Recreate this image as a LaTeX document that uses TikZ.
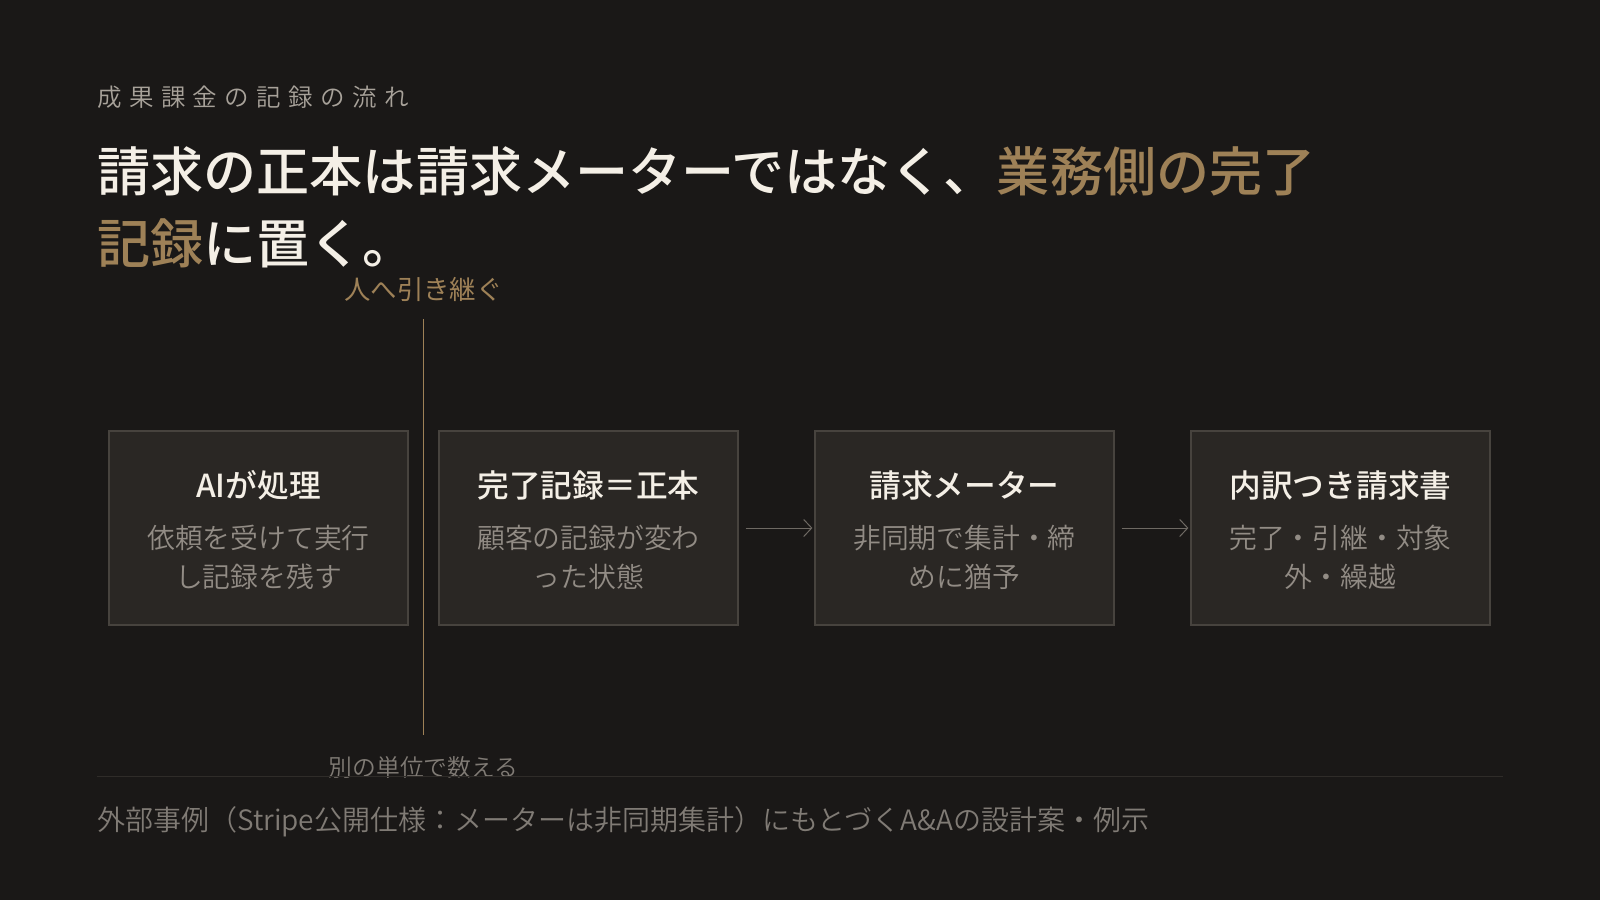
\documentclass[tikz,border=0pt]{standalone}
\usepackage{fontspec}
\setmainfont{Noto Sans CJK JP}
\newfontfamily\medfont{Noto Sans CJK JP Medium}
\newfontfamily\lightfont{Noto Sans CJK JP DemiLight}
\usetikzlibrary{arrows.meta}
\definecolor{bg}{HTML}{1A1817}
\definecolor{boxfill}{HTML}{2A2724}
\definecolor{boxline}{HTML}{47433E}
\definecolor{titlewhite}{HTML}{F4EFE6}
\definecolor{gold}{HTML}{9E8157}
\definecolor{descgrey}{HTML}{928C85}
\definecolor{subgrey}{HTML}{A8A29A}
\definecolor{footgrey}{HTML}{807B75}
\definecolor{footline}{HTML}{2F2C29}
\definecolor{arrowgrey}{HTML}{6E6963}
\begin{document}
\begin{tikzpicture}[x=0.5pt,y=-0.5pt,
  box/.style={draw=boxline, fill=boxfill, line width=0.6pt, minimum width=149.5pt, minimum height=97pt, inner sep=0pt},
  btitle/.style={anchor=base, inner sep=0pt, text=titlewhite, font=\fontsize{15.85}{18}\medfont},
  bdesc/.style={anchor=base, inner sep=0pt, text=descgrey, font=\fontsize{13.9}{18}\lightfont},
  flow/.style={draw=arrowgrey, line width=0.5pt, -{Straight Barb[length=4pt,width=8.5pt,line width=0.5pt]}, shorten <=3.5pt, shorten >=1pt},
  handoff/.style={draw=gold, line width=0.8pt},
  plain/.style={anchor=base west, inner sep=0pt}
]
\fill[bg] (0,0) rectangle (1600,900);
\useasboundingbox (0,0) rectangle (1600,900);

% header
\node[plain, text=subgrey, font=\fontsize{12.25}{14}\lightfont] (sub) at (97,106.5)
  {\addfontfeature{LetterSpace=30}成果課金の記録の流れ};
\node[plain, text=titlewhite, font=\fontsize{26.55}{30}\medfont] (t1) at (97,191)
  {請求の正本は請求メーターではなく、\textcolor{gold}{業務側の完了}};
\node[plain, text=titlewhite, font=\fontsize{26.55}{30}\medfont] (t2) at (97,263)
  {\textcolor{gold}{記録}に置く。};

% boxes
\node[box] (b1) at (258.5,528) {};
\node[box] (b2) at (588.5,528) {};
\node[box] (b3) at (964.5,528) {};
\node[box] (b4) at (1340.5,528) {};

\node[btitle] (h1) at (258.5,497) {AIが処理};
\node[bdesc] (d1a) at (258.5,548) {依頼を受けて実行};
\node[bdesc] (d1b) at (258.5,587) {し記録を残す};

\node[btitle] (h2) at (588.5,497) {完了記録＝正本};
\node[bdesc] (d2a) at (588.5,548) {顧客の記録が変わ};
\node[bdesc] (d2b) at (588.5,587) {った状態};

\node[btitle] (h3) at (964.5,497) {請求メーター};
\node[bdesc] (d3a) at (964.5,548) {非同期で集計・締};
\node[bdesc] (d3b) at (964.5,587) {めに猶予};

\node[btitle] (h4) at (1340.5,497) {内訳つき請求書};
\node[bdesc] (d4a) at (1340.5,548) {完了・引継・対象};
\node[bdesc] (d4b) at (1340.5,587) {外・繰越};

\draw[flow] (b2.east) -- (b3.west);
\draw[flow] (b3.east) -- (b4.west);

% hand-off line
\node[anchor=base, inner sep=0pt, text=gold, font=\fontsize{13.2}{15}\selectfont] (hand) at (423.5,299) {人へ引き継ぐ};
\node[anchor=base, inner sep=0pt, text=footgrey, font=\fontsize{11.9}{14}\lightfont] (count) at (423.5,776) {別の単位で数える};
\coordinate (vtop) at (423.5,319);
\coordinate (vbot) at (423.5,735);
\draw[handoff] (vtop) -- (vbot);

% footer
\coordinate (fl) at (97,776.5);
\coordinate (fr) at (1503,776.5);
\draw[footline, line width=0.6pt] (fl) -- (fr);
\node[plain, text=footgrey, font=\fontsize{14}{16}\lightfont] (foot) at (97,830)
  {外部事例（Stripe公開仕様：メーターは非同期集計）にもとづくA\&Aの設計案・例示};
\end{tikzpicture}
\end{document}
